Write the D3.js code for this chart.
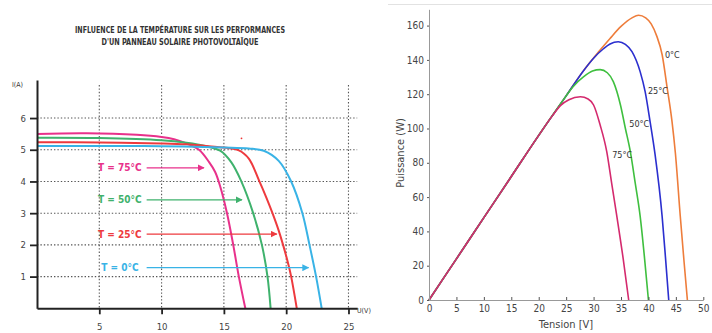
<!DOCTYPE html>
<html>
<head>
<meta charset="utf-8">
<script src="https://cdn.jsdelivr.net/npm/d3@7"></script>
<style>
    body { margin: 0; background: #fff; }
    svg { display: block; }
    .narrow { font-family: "Liberation Sans Narrow", "DejaVu Sans Condensed", "Arial Narrow", sans-serif; font-stretch: condensed; }
    .grid line { stroke: #555; stroke-width: 1.1; stroke-dasharray: 1.4 2; }
</style>
</head>
<body>
<svg id="chart" width="712" height="333"></svg>
<script>
// ---- left panel : courbes I(U) ----
const titleLines = ['INFLUENCE DE LA TEMPÉRATURE SUR LES PERFORMANCES', "D'UN PANNEAU SOLAIRE PHOTOVOLTAÏQUE"];
const ivTicksX = [5, 10, 15, 20, 25];
const ivTicksY = [1, 2, 3, 4, 5, 6];
const ivLabels = ['T = 75°C', 'T = 50°C', 'T = 25°C', 'T = 0°C'];
const ivArrowEnds = [13.4, 16.45, 19.25, 21.8];   // tension where each arrow stops
const ivArrowLevels = [4.43, 3.42, 2.34, 1.28];   // current at which each arrow sits
const iv75 = [[0, 5.5], [4, 5.52], [8, 5.47], [10, 5.4], [11, 5.33], [12, 5.2], [13, 5.0], [13.8, 4.62], [14.3, 4.3], [14.7, 3.85], [15.25, 3.0], [15.75, 2.0], [16.2, 1.0], [16.72, 0]];
const iv50 = [[0, 5.38], [5, 5.37], [10, 5.3], [12, 5.22], [13.5, 5.12], [14.7, 4.97], [15.6, 4.6], [16.4, 4.0], [17.35, 3.0], [18.05, 2.0], [18.5, 1.0], [18.75, 0]];
const iv25 = [[0, 5.24], [5, 5.23], [10, 5.2], [12, 5.17], [14, 5.1], [16.2, 4.98], [17.0, 4.72], [17.8, 4.05], [18.4, 3.5], [18.9, 3.0], [19.4, 2.45], [19.75, 2.0], [20.1, 1.5], [20.4, 1.0], [20.85, 0]];
const iv0 = [[0, 5.12], [5, 5.12], [10, 5.11], [15, 5.07], [17, 5.04], [18.2, 4.97], [19.4, 4.65], [20.4, 4.0], [21.3, 3.0], [21.87, 2.0], [22.4, 1.0], [22.85, 0]];
const ivColors = ['#e8318b', '#3fb26d', '#ee3a3e', '#39b3e6'];

// ---- right panel : courbes P(U) ----
const pvTicksX = [0, 5, 10, 15, 20, 25, 30, 35, 40, 45, 50];
const pvTicksY = [0, 20, 40, 60, 80, 100, 120, 140, 160];
const pvLabels = ['0°C', '25°C', '50°C', '75°C'];
const pvLabelPos = [[43.0, 141], [39.9, 120], [36.5, 101], [33.4, 83]];   // [tension, puissance] of text start
const pv0 = [[0, 0], [5, 24], [10, 48], [15, 72], [20, 96], [25, 119], [28, 133], [31, 145], [33, 152.5], [35, 159.5], [37, 164.5], [38.2, 166], [39.5, 164.5], [40.5, 161], [41.5, 154], [42.5, 143], [43.4, 124], [44.3, 104], [44.9, 86], [45.8, 49], [46.5, 22], [47.1, 0]];
const pv25 = [[0, 0], [5, 24], [10, 48], [15, 72], [20, 96], [25, 119], [28, 133], [30, 141], [31.8, 146.5], [33, 149.3], [34.5, 150.6], [35.8, 149], [37, 144.8], [38.5, 133], [39.4, 121.5], [40.3, 104], [41.2, 85], [42.5, 48.6], [43.1, 25], [43.7, 0]];
const pv50 = [[0, 0], [5, 24], [10, 48], [15, 72], [20, 96], [24, 114.5], [26.3, 124.5], [28.2, 130.2], [29.8, 133.5], [31.2, 134.3], [32.5, 132.5], [33.6, 127.3], [34.9, 113.7], [35.8, 100], [36.7, 86.5], [37.6, 68], [38.5, 48.6], [39.3, 24], [40, 0]];
const pv75 = [[0, 0], [5, 24], [10, 48], [15, 72], [20, 96], [22.5, 107.5], [24, 113.5], [25.5, 116.8], [27.6, 118.5], [29, 117.2], [30, 113.7], [31.2, 102], [32.4, 86.5], [33.3, 68], [34.25, 48.6], [35.4, 24], [36.4, 0]];
const pvColors = ['#ee7d3b', '#2b2fcf', '#3fbf3f', '#d42a6e'];

const svg = d3.select('#chart');

// defs for arrow heads
const defs = svg.append('defs');
ivColors.forEach((c, i) => {
    defs.append('marker')
        .attr('id', `head${i}`)
        .attr('viewBox', '0 0 10 10')
        .attr('refX', 9).attr('refY', 5)
        .attr('markerWidth', 7).attr('markerHeight', 7)
        .attr('markerUnits', 'userSpaceOnUse')
        .attr('orient', 'auto')
        .append('path')
        .attr('d', 'M0,0L10,5L0,10Z')
        .attr('fill', c);
});

// ================= left panel =================
const xI = d3.scaleLinear().domain([0, 25.7]).range([37, 357.2]);
const yI = d3.scaleLinear().domain([0, 7.2]).range([308.3, 80]);

const left = svg.append('g');

left.append('g').selectAll('text')
    .data(titleLines)
    .join('text')
    .attr('class', 'narrow')
    .attr('x', 180)
    .attr('y', (d, i) => 33 + i * 12)
    .attr('text-anchor', 'middle')
    .attr('font-size', 8.5)
    .attr('font-weight', 'bold')
    .attr('fill', '#333')
    .attr('textLength', (d, i) => i === 0 ? 210 : 157)
    .attr('lengthAdjust', 'spacingAndGlyphs')
    .text((d) => d);

// dotted grid
const grid = left.append('g').attr('class', 'grid');
grid.selectAll('line.gv')
    .data(ivTicksX)
    .join('line')
    .attr('class', 'gv')
    .attr('x1', (d) => xI(d)).attr('x2', (d) => xI(d))
    .attr('y1', 85).attr('y2', yI(0));
grid.selectAll('line.gh')
    .data(ivTicksY)
    .join('line')
    .attr('class', 'gh')
    .attr('x1', xI(0)).attr('x2', xI(25.7))
    .attr('y1', (d) => yI(d)).attr('y2', (d) => yI(d));

// curves
const ivLine = d3.line().x((d) => xI(d[0])).y((d) => yI(d[1])).curve(d3.curveCatmullRom.alpha(0.5));
[iv75, iv50, iv25, iv0].forEach((data, i) => {
    left.append('path')
        .datum(data)
        .attr('d', ivLine)
        .attr('fill', 'none')
        .attr('stroke', ivColors[i])
        .attr('stroke-width', 2);
});

// labels and arrows
ivLabels.forEach((label, i) => {
    left.append('text')
        .attr('class', 'narrow')
        .attr('x', xI(6.65))
        .attr('y', yI(ivArrowLevels[i]) + 3.5)
        .attr('text-anchor', 'middle')
        .attr('font-size', 10)
        .attr('font-weight', 'bold')
        .attr('fill', ivColors[i])
        .text(label);
    left.append('line')
        .attr('x1', xI(8.8)).attr('x2', xI(ivArrowEnds[i]))
        .attr('y1', yI(ivArrowLevels[i])).attr('y2', yI(ivArrowLevels[i]))
        .attr('stroke', ivColors[i])
        .attr('stroke-width', 1.2)
        .attr('marker-end', `url(#head${i})`);
});

// stray red dot from the original
left.append('circle').attr('cx', 241.5).attr('cy', 138.3).attr('r', 0.9).attr('fill', '#e33');

// axes
const ivAxisY = left.append('g')
    .attr('transform', `translate(${xI(0)},0)`)
    .call(d3.axisLeft(yI).tickValues(ivTicksY).tickSizeInner(7).tickSizeOuter(0).tickPadding(4));
const ivAxisX = left.append('g')
    .attr('transform', `translate(0,${yI(0)})`)
    .call(d3.axisBottom(xI).tickValues(ivTicksX).tickSizeInner(6).tickSizeOuter(0).tickPadding(9));
[ivAxisX, ivAxisY].forEach((a) => {
    a.select('.domain').attr('stroke', '#222').attr('stroke-width', 2);
    a.selectAll('.tick line').attr('stroke', '#222').attr('stroke-width', 1.8);
    a.selectAll('.tick text').attr('class', 'narrow').attr('font-size', 9.5).attr('fill', '#444');
});

left.append('text').attr('class', 'narrow')
    .attr('x', 12).attr('y', 87)
    .attr('font-size', 7).attr('fill', '#333')
    .text('I(A)');
left.append('text').attr('class', 'narrow')
    .attr('x', 357).attr('y', 313)
    .attr('font-size', 7).attr('fill', '#333')
    .text('U(V)');

// ================= right panel =================
const xP = d3.scaleLinear().domain([0, 50]).range([429, 703.3]);
const yP = d3.scaleLinear().domain([0, 169.5]).range([300, 9.3]);

const right = svg.append('g');

right.append('line')
    .attr('x1', 388).attr('x2', 712)
    .attr('y1', 4.5).attr('y2', 4.5)
    .attr('stroke', '#e2e2e2');

const pvLine = d3.line().x((d) => xP(d[0])).y((d) => yP(d[1])).curve(d3.curveMonotoneX);
[pv0, pv25, pv50, pv75].forEach((data, i) => {
    right.append('path')
        .datum(data)
        .attr('d', pvLine)
        .attr('fill', 'none')
        .attr('stroke', pvColors[i])
        .attr('stroke-width', 1.6);
});

right.selectAll('text.curve-label')
    .data(pvLabels)
    .join('text')
    .attr('class', 'narrow curve-label')
    .attr('x', (d, i) => xP(pvLabelPos[i][0]))
    .attr('y', (d, i) => yP(pvLabelPos[i][1]))
    .attr('font-size', 9)
    .attr('fill', '#333')
    .text((d) => d);

const pvAxisX = right.append('g')
    .attr('transform', `translate(0,${yP(0)})`)
    .call(d3.axisBottom(xP).tickValues(pvTicksX).tickSizeInner(-3).tickSizeOuter(0).tickPadding(5));
const pvAxisY = right.append('g')
    .attr('transform', `translate(${xP(0)},0)`)
    .call(d3.axisLeft(yP).tickValues(pvTicksY).tickSizeInner(2).tickSizeOuter(0).tickPadding(3));
[pvAxisX, pvAxisY].forEach((a) => {
    a.select('.domain').attr('stroke', '#999').attr('stroke-width', 1);
    a.selectAll('.tick line').attr('stroke', '#555');
    a.selectAll('.tick text').attr('class', 'narrow').attr('font-size', 10).attr('fill', '#444');
});

right.append('text').attr('class', 'narrow')
    .attr('x', 566).attr('y', 328)
    .attr('text-anchor', 'middle')
    .attr('font-size', 11).attr('fill', '#444')
    .text('Tension [V]');
right.append('text').attr('class', 'narrow')
    .attr('transform', `translate(404,153) rotate(-90)`)
    .attr('text-anchor', 'middle')
    .attr('font-size', 11).attr('fill', '#444')
    .text('Puissance (W)');
</script>
</body>
</html>
